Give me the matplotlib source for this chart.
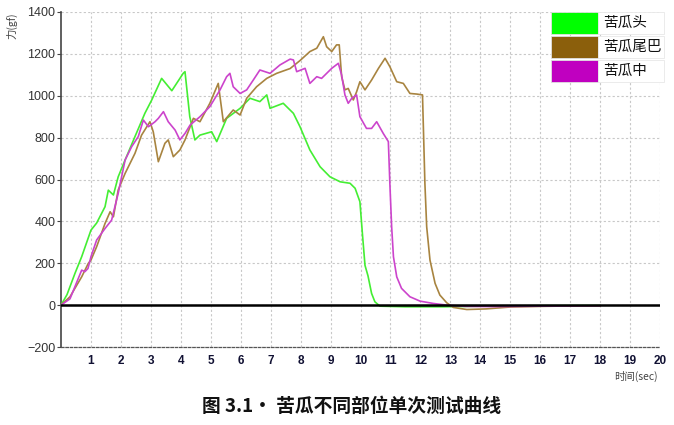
import matplotlib
matplotlib.use("Agg")
import matplotlib.pyplot as plt
from matplotlib.patches import Rectangle

plt.rcParams['font.family'] = ['Noto Sans CJK SC', 'DejaVu Sans']

series_names = ["苦瓜头", "苦瓜尾巴", "苦瓜中"]
legend_colors = ["#00FF00", "#8B5F0C", "#C000C0"]
line_colors = ["#44EE33", "#A88440", "#CC44CC"]

# 苦瓜头 (head)
t_head = [0, 0.2, 0.47, 0.69, 1.0, 1.19, 1.47, 1.58, 1.75, 1.91, 2.14, 2.47, 2.8, 3.03, 3.36, 3.7,
          4.08, 4.14, 4.3, 4.47, 4.64, 5.03, 5.2, 5.53, 5.98, 6.31, 6.64, 6.87, 6.98, 7.42, 7.76,
          7.98, 8.31, 8.65, 8.98, 9.32, 9.65, 9.82, 9.98, 10.07, 10.15, 10.25, 10.37, 10.48, 10.65,
          11.5, 12.75, 14.0, 16.0, 18.0]
f_head = [0, 50, 153, 231, 358, 392, 470, 549, 526, 613, 693, 805, 916, 980, 1083, 1024,
          1107, 1115, 900, 789, 812, 828, 781, 892, 940, 988, 972, 1004, 940, 964, 916,
          852, 741, 661, 613, 589, 582, 558, 494, 330, 190, 140, 56, 16, -5,
          -8, -8, -5, -3, -2]

# 苦瓜尾巴 (tail)
t_tail = [0, 0.3, 0.69, 0.91, 1.0, 1.19, 1.47, 1.64, 1.75, 1.91, 2.14, 2.47, 2.69, 2.97, 3.08, 3.25,
          3.47, 3.58, 3.75, 3.97, 4.14, 4.42, 4.64, 4.97, 5.25, 5.42, 5.75, 5.98, 6.2, 6.53, 6.87,
          7.2, 7.65, 7.98, 8.31, 8.54, 8.76, 8.87, 9.04, 9.2, 9.29, 9.37, 9.48, 9.59, 9.76, 9.87,
          9.98, 10.15, 10.37, 10.6, 10.82, 10.98, 11.21, 11.43, 11.65, 11.88, 12.07, 12.15, 12.21,
          12.32, 12.49, 12.65, 12.88, 13.1, 13.55, 14.2, 15.0, 16.0, 17.0, 18.0]
f_tail = [0, 40, 135, 199, 215, 279, 390, 446, 422, 550, 629, 725, 812, 876, 828, 685,
          773, 789, 709, 741, 789, 892, 876, 964, 1059, 876, 932, 908, 988, 1043, 1083,
          1107, 1130, 1168, 1211, 1227, 1282, 1234, 1211, 1243, 1243, 1091, 1028, 1035, 980, 1019,
          1067, 1028, 1075, 1131, 1179, 1139, 1067, 1059, 1011, 1008, 1004, 582, 374,
          215, 104, 48, 11, -11, -21, -18, -9, -6, -4, -3]

# 苦瓜中 (middle)
t_mid = [0, 0.3, 0.69, 0.8, 0.9, 1.0, 1.19, 1.47, 1.69, 1.91, 2.14, 2.36, 2.58, 2.75, 2.92, 3.14,
         3.25, 3.42, 3.58, 3.81, 3.97, 4.14, 4.31, 4.64, 4.97, 5.31, 5.53, 5.64, 5.75, 5.98, 6.2,
         6.42, 6.64, 6.98, 7.31, 7.65, 7.76, 7.87, 8.15, 8.31, 8.54, 8.7, 8.87, 9.04, 9.26, 9.37,
         9.48, 9.59, 9.71, 9.87, 9.98, 10.2, 10.37, 10.54, 10.76, 10.93, 10.98, 11.04, 11.1, 11.21,
         11.37, 11.65, 11.99, 12.43, 12.88, 13.5, 14.5, 16.0, 18.0]
f_mid = [0, 30, 167, 160, 175, 231, 311, 366, 406, 534, 693, 757, 805, 884, 852, 876,
         892, 924, 876, 836, 789, 820, 860, 900, 948, 1028, 1091, 1107, 1043, 1011, 1028,
         1075, 1123, 1107, 1147, 1175, 1171, 1115, 1131, 1059, 1091, 1083, 1107, 1131, 1155, 1099,
         1004, 964, 988, 1004, 900, 844, 844, 876, 820, 781, 582, 374, 231, 135,
         80, 40, 19, 8, 0, -6, -7, -5, -3]

series_t = [t_head, t_tail, t_mid]
series_f = [f_head, f_tail, f_mid]

x_ticks = list(range(1, 21))
y_ticks = list(range(-200, 1401, 200))

fig = plt.figure(figsize=(6.74, 4.25), dpi=100)
ax = fig.add_axes([61 / 674, 1 - 347 / 425, (660 - 61) / 674, (347 - 12) / 425])

ax.set_xlim(0, 20)
ax.set_ylim(-200, 1400)

for tt, ff, c in zip(series_t, series_f, line_colors):
    ax.plot(tt, ff, color=c, lw=1.2, zorder=3)

ax.axhline(0, color="black", lw=1.8, zorder=4)

ax.set_xticks(x_ticks)
ax.set_yticks(y_ticks)
ax.grid(True, color="#c8c8c8", linestyle=(0, (2, 2)), lw=0.8)
ax.set_axisbelow(True)

for s in ["top", "right"]:
    ax.spines[s].set_visible(False)
ax.spines["left"].set_color("#444444")
ax.spines["left"].set_linewidth(1.2)
ax.spines["bottom"].set_color("#555555")
ax.spines["bottom"].set_linestyle((0, (2, 1.5)))
ax.spines["bottom"].set_linewidth(0.9)

ax.tick_params(axis="y", length=3, width=0.8, colors="#444444", labelsize=9, pad=1)
ax.tick_params(axis="x", length=0, labelsize=8.5, pad=6)
for lab in ax.get_xticklabels():
    lab.set_fontweight("bold")
    lab.set_color("#111133")
    lab.set_family(["Liberation Sans", "DejaVu Sans"])
for lab in ax.get_yticklabels():
    lab.set_color("#333333")
    lab.set_family(["Liberation Sans", "DejaVu Sans"])

fig.text(12 / 674, 1 - 26 / 425, "力(gf)", rotation=90, fontsize=7.5, color="#444444",
         ha="center", va="center")
fig.text(636 / 674, 1 - 376 / 425, "时间(sec)", fontsize=7.5, color="#444444",
         ha="center", va="center")

# legend
rows_top = [12, 36, 60]
for name, col, top in zip(series_names, legend_colors, rows_top):
    fig.add_artist(Rectangle((551 / 674, 1 - (top + 22) / 425), 47 / 674, 22 / 425,
                             transform=fig.transFigure, facecolor=col, edgecolor="#e0e0e0",
                             lw=0.6, zorder=5))
    fig.add_artist(Rectangle((598 / 674, 1 - (top + 22) / 425), 66 / 674, 22 / 425,
                             transform=fig.transFigure, facecolor="white", edgecolor="#e8e8e8",
                             lw=0.6, zorder=5))
    fig.text(603 / 674, 1 - (top + 11) / 425, name, fontsize=10.5, color="#111111",
             ha="left", va="center", zorder=6)

fig.text(352 / 674, 1 - 406 / 425, "图 3.1· 苦瓜不同部位单次测试曲线", fontsize=13.5,
         fontweight="bold", color="#111111", ha="center", va="center")

fig.savefig("out.png", dpi=100)
